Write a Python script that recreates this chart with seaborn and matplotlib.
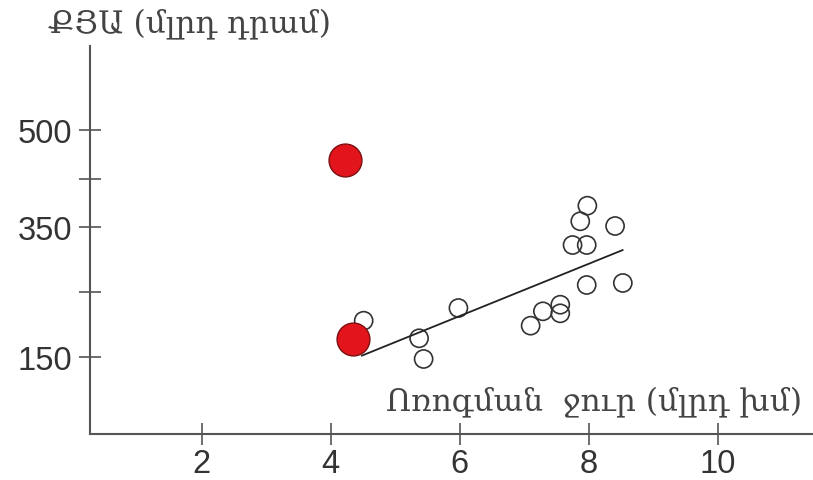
import matplotlib
matplotlib.use("Agg")
from matplotlib import pyplot as plt
import numpy as np
import pandas as pd
import seaborn as sns

# ------------------------------------------------------------
#     data
# ------------------------------------------------------------

water = [4.51, 5.37, 5.44, 5.98, 7.10, 7.29, 7.56, 7.56, 7.75, 7.97,
         7.87, 7.98, 8.41, 7.97, 8.53]
gdp = [205.9, 178.7, 146.7, 225.5, 198.2, 220.4, 230.6, 217.3, 322.9, 322.9,
       359.6, 383.7, 352.3, 261.1, 264.2]

# the two highlighted (red) points
red_water = [4.34, 4.22]
red_gdp = [177.6, 454.4]

# trend line end points
trend_x = [4.48, 8.53]
trend_y = [151.8, 315.2]

xticks = [2, 4, 6, 8, 10]
yticks = [150, 250, 350, 425, 500]
ytick_labels = ["150", "", "350", "", "500"]

xlabel = "Ոռոգման  ջուր (մլրդ խմ)"
ylabel = "ՔՅԱ (մլրդ դրամ)"

df = pd.DataFrame({"x": water, "y": gdp})
red = pd.DataFrame({"x": red_water, "y": red_gdp})
trend = pd.DataFrame({"x": trend_x, "y": trend_y})

# ------------------------------------------------------------
#     plot
# ------------------------------------------------------------

sns.set_style("white")
plt.rcParams["font.family"] = ["Liberation Sans", "DejaVu Sans"]

fig = plt.figure(figsize=(8.13, 4.81), dpi=100)
ax = fig.add_axes([0.1107, 0.0956, 0.8893, 0.8067])

sns.lineplot(data=trend, x="x", y="y", color="#222222", linewidth=1.3, ax=ax)
sns.scatterplot(data=df, x="x", y="y", s=170, facecolor="none",
                edgecolor="#333333", linewidth=1.2, ax=ax)
sns.scatterplot(data=red, x="x", y="y", s=560, color="#e3151c",
                edgecolor="#7a1010", linewidth=1.0, ax=ax, zorder=5)

ax.set_xlim(0.265, 11.48)
ax.set_ylim(30.7, 630.6)

for side in ["top", "right"]:
    ax.spines[side].set_visible(False)
for side in ["left", "bottom"]:
    ax.spines[side].set_color("#555555")
    ax.spines[side].set_linewidth(1.5)

ax.set_xticks(xticks)
ax.set_xticklabels([str(t) for t in xticks])
ax.set_yticks(yticks)
ax.set_yticklabels(ytick_labels)
# seaborn's white style hides the ticks, switch them back on
ax.tick_params(axis="both", bottom=True, left=True, direction="inout",
               length=16, width=1.2, color="#555555", labelsize=23.5,
               labelcolor="#333333")
ax.tick_params(axis="x", pad=2)
ax.tick_params(axis="y", pad=5)

ax.set_xlabel("")
ax.set_ylabel("")

armenian = ["DejaVu Serif", "DejaVu Sans"]
ax.text(0.985, 0.085, xlabel, transform=ax.transAxes, ha="right", va="center",
        fontsize=22.5, color="#444444", family=armenian)
fig.text(48 / 813, 1 - 24 / 481, ylabel, ha="left", va="center",
         fontsize=22.5, color="#444444", family=armenian)

plt.savefig("out.png", dpi=100)
